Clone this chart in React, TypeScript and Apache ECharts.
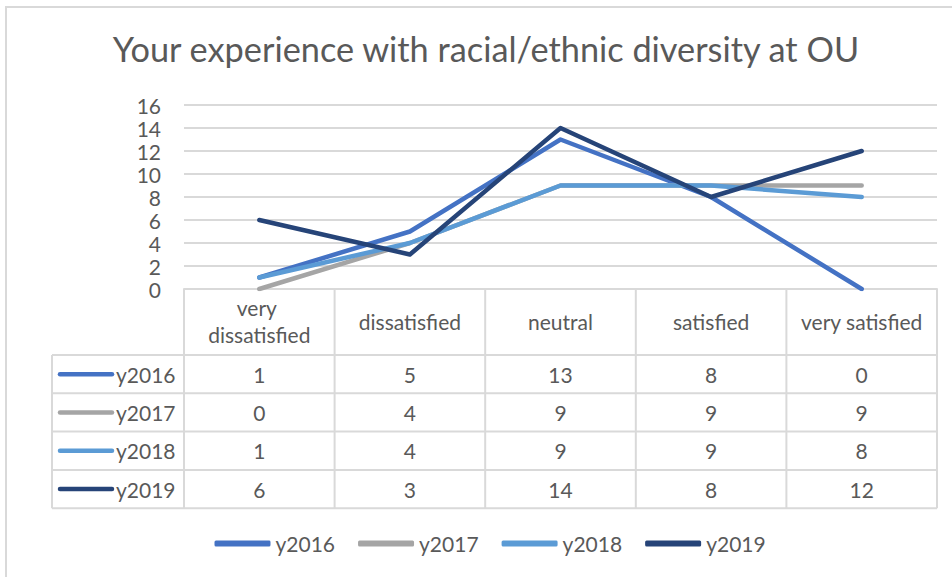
import React, { useEffect, useRef } from "react";
import * as echarts from "echarts";

const titleText = "Your experience with racial/ethnic diversity at OU";
const categories = ["very dissatisfied", "dissatisfied", "neutral", "satisfied", "very satisfied"];
const seriesNames = ["y2016", "y2017", "y2018", "y2019"];
const y2016 = [1, 5, 13, 8, 0];
const y2017 = [0, 4, 9, 9, 9];
const y2018 = [1, 4, 9, 9, 8];
const y2019 = [6, 3, 14, 8, 12];
const seriesValues = [y2016, y2017, y2018, y2019];
const colors = ["#4472C4", "#A5A5A5", "#5B9BD5", "#264478"];

const FONT = 'Lato, "Open Sans", sans-serif';
const TEXT = "#595959";
const GRID_COLOR = "#D9D9D9";

export default function App() {
  const ref = useRef<HTMLDivElement>(null);

  useEffect(() => {
    if (!ref.current) return;
    const chart = echarts.init(ref.current, undefined, { renderer: "svg" });

    const gridLeft = 184;
    const gridRight = 937;
    const gridTop = 105;
    const gridBottom = 289;
    const colW = (gridRight - gridLeft) / categories.length;
    const headerBottom = 355;
    const rowH = 38.3;
    const tableLeft = 52;
    const tableBottom = headerBottom + rowH * seriesNames.length;

    const graphics: any[] = [];
    // outer frame
    graphics.push({
      type: "rect",
      shape: { x: 6, y: 7, width: 980, height: 620 },
      style: { fill: "none", stroke: GRID_COLOR, lineWidth: 2 },
      silent: true,
    });
    // title
    graphics.push({
      type: "text",
      x: 486,
      y: 48,
      style: {
        text: titleText,
        font: `34.3px ${FONT}`,
        fill: TEXT,
        textAlign: "center",
        textVerticalAlign: "middle",
      },
    });
    // table vertical lines
    for (let i = 0; i <= categories.length; i++) {
      const x = gridLeft + i * colW;
      graphics.push({
        type: "line",
        shape: { x1: x, y1: gridBottom, x2: x, y2: tableBottom },
        style: { stroke: GRID_COLOR, lineWidth: 2 },
      });
    }
    graphics.push({
      type: "line",
      shape: { x1: tableLeft, y1: headerBottom, x2: tableLeft, y2: tableBottom },
      style: { stroke: GRID_COLOR, lineWidth: 2 },
    });
    // table horizontal lines
    for (let r = 0; r <= seriesNames.length; r++) {
      const y = headerBottom + r * rowH;
      graphics.push({
        type: "line",
        shape: { x1: tableLeft, y1: y, x2: gridRight, y2: y },
        style: { stroke: GRID_COLOR, lineWidth: 2 },
      });
    }
    // rows
    seriesNames.forEach((name, r) => {
      const cy = headerBottom + (r + 0.5) * rowH;
      graphics.push({
        type: "line",
        shape: { x1: 60, y1: cy, x2: 112, y2: cy },
        style: { stroke: colors[r], lineWidth: 4.5, lineCap: "round" },
      });
      graphics.push({
        type: "text",
        x: 116,
        y: cy,
        style: { text: name, font: `21px ${FONT}`, fill: TEXT, textAlign: "left", textVerticalAlign: "middle" },
      });
      seriesValues[r].forEach((v, c) => {
        graphics.push({
          type: "text",
          x: gridLeft + (c + 0.5) * colW,
          y: cy,
          style: { text: String(v), font: `21px ${FONT}`, fill: TEXT, textAlign: "center", textVerticalAlign: "middle" },
        });
      });
    });

    chart.setOption({
      animation: false,
      backgroundColor: "#ffffff",
      textStyle: { fontFamily: FONT },
      grid: { left: gridLeft, top: gridTop, width: gridRight - gridLeft, height: gridBottom - gridTop, containLabel: false },
      legend: {
        data: seriesNames,
        left: 209.5,
        top: 528,
        icon: "roundRect",
        itemWidth: 56,
        itemHeight: 6,
        itemGap: 23,
        textStyle: { fontSize: 21, color: TEXT, fontFamily: FONT, width: 57 },
      },
      xAxis: {
        type: "category",
        data: categories,
        boundaryGap: true,
        axisLine: { show: true, lineStyle: { color: GRID_COLOR, width: 2 } },
        axisTick: { show: false },
        axisLabel: {
          show: true,
          interval: 0,
          color: TEXT,
          fontSize: 21,
          fontFamily: FONT,
          lineHeight: 27,
          width: colW - 12,
          overflow: "break",
          verticalAlign: "middle",
          margin: 32,
        },
        splitLine: { show: false },
      },
      yAxis: {
        type: "value",
        min: 0,
        max: 16,
        interval: 2,
        axisLine: { show: false },
        axisTick: { show: false },
        axisLabel: { color: TEXT, fontSize: 21, fontFamily: FONT, margin: 23 },
        splitLine: { lineStyle: { color: GRID_COLOR, width: 2 } },
      },
      series: seriesNames.map((name, i) => ({
        name,
        type: "line",
        data: seriesValues[i],
        symbol: "none",
        showSymbol: false,
        lineStyle: { color: colors[i], width: 4.5, cap: "round", join: "round" },
        itemStyle: { color: colors[i] },
      })),
      graphic: graphics,
    });

    return () => chart.dispose();
  }, []);

  return (
    <div
      ref={ref}
      style={{ position: "fixed", left: 0, top: 0, width: 952, height: 577, background: "#fff" }}
    />
  );
}
